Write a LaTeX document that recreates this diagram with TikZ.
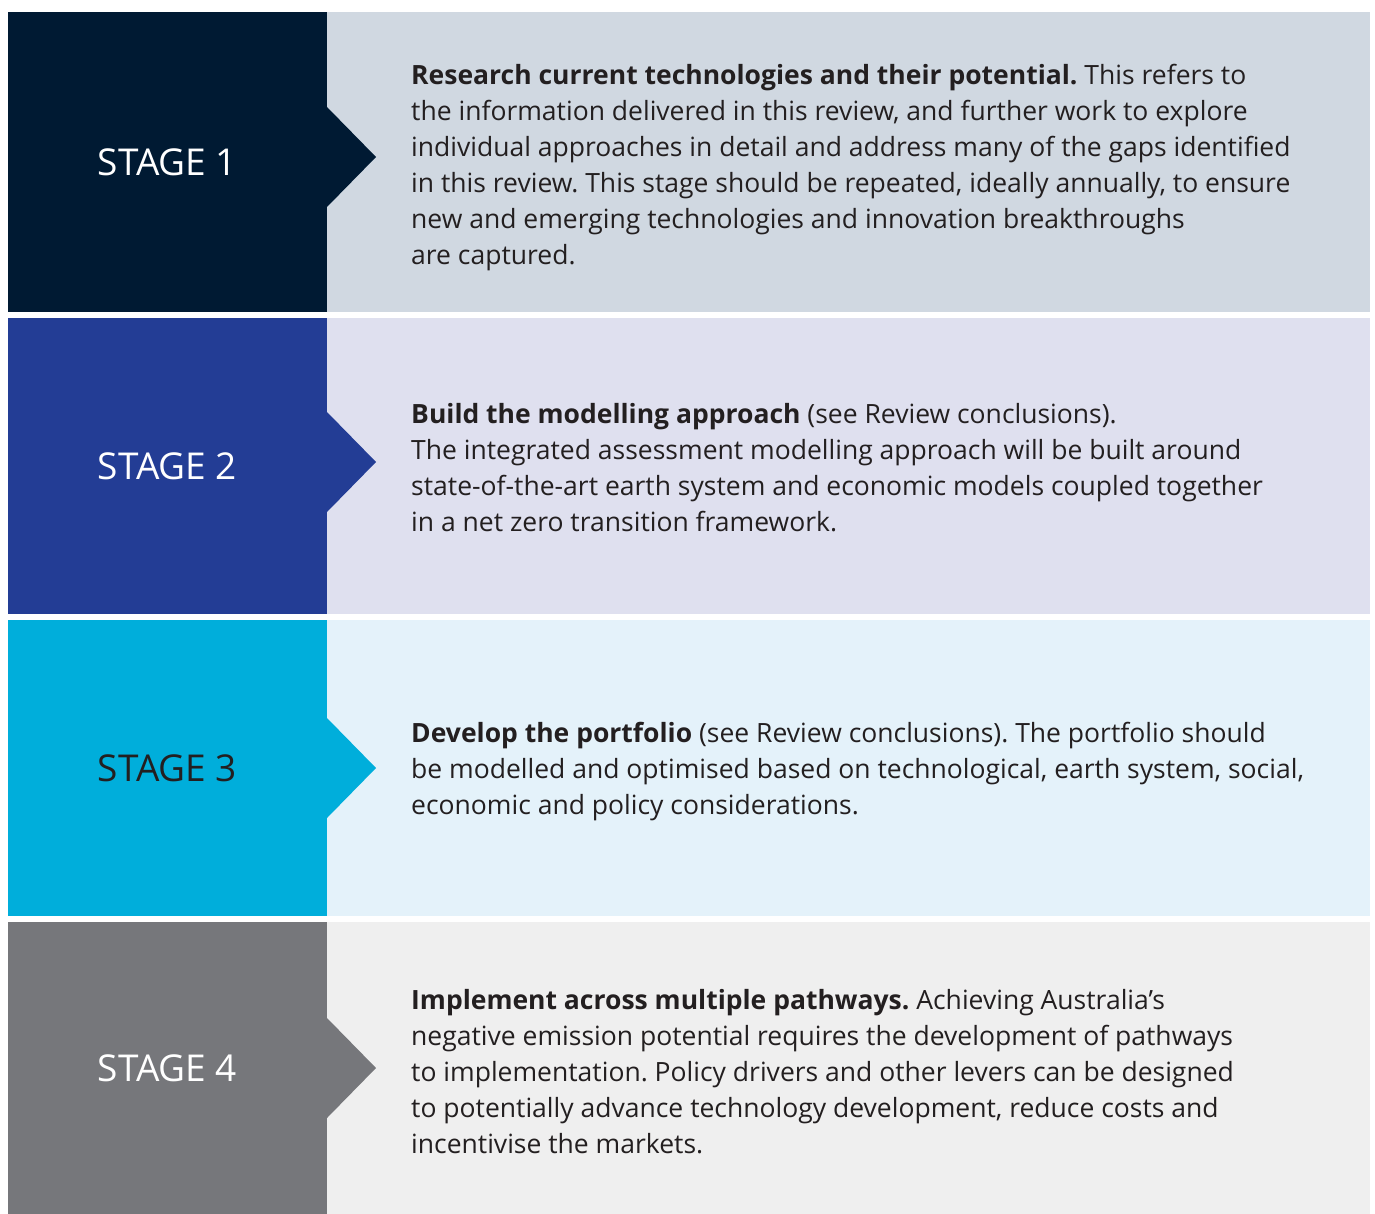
\documentclass[tikz,border=0pt]{standalone}
\usepackage{fontspec}
\setmainfont{Open Sans}
\usetikzlibrary{positioning}

\definecolor{stageone}{HTML}{001A33}
\definecolor{stagetwo}{HTML}{233D95}
\definecolor{stagethree}{HTML}{00AEDB}
\definecolor{stagefour}{HTML}{76777B}
\definecolor{panelone}{HTML}{D0D8E1}
\definecolor{paneltwo}{HTML}{DFE0EF}
\definecolor{panelthree}{HTML}{E4F2FA}
\definecolor{panelfour}{HTML}{EFEFEF}
\definecolor{bodytext}{HTML}{231F20}

\begin{document}
\frenchspacing
\begin{tikzpicture}[x = 1pt, y = -1pt,
    stage/.style = {shape = rectangle, minimum width = 319pt, inner sep = 0pt, outer sep = 0pt, text = white, font = \fontsize{37}{40}\selectfont},
    panel/.style = {shape = rectangle, minimum width = 1043pt, inner sep = 0pt, outer sep = 0pt},
    body/.style = {align = left, inner sep = 0pt, text = bodytext, font = \fontsize{26.5}{36}\selectfont},
    ]
    \useasboundingbox (0,0) rectangle (1375,1214);

    \node[stage, fill = stageone, minimum height = 300pt, anchor = north west] (s1) at (8,12) {\raisebox{-3pt}{STAGE 1}};
    \node[stage, fill = stagetwo, minimum height = 296pt, anchor = north west] (s2) at (8,318) {\raisebox{-2pt}{STAGE 2}};
    \node[stage, fill = stagethree, minimum height = 296pt, anchor = north west, text = bodytext] (s3) at (8,620) {\raisebox{-2pt}{STAGE 3}};
    \node[stage, fill = stagefour, minimum height = 292pt, anchor = north west] (s4) at (8,922) {\raisebox{-3pt}{STAGE 4}};

    \node[panel, fill = panelone, minimum height = 300pt, right = 0pt of s1] (p1) {};
    \node[panel, fill = paneltwo, minimum height = 296pt, right = 0pt of s2] (p2) {};
    \node[panel, fill = panelthree, minimum height = 296pt, right = 0pt of s3] (p3) {};
    \node[panel, fill = panelfour, minimum height = 292pt, right = 0pt of s4] (p4) {};

    % pointers into the panels
    \fill[stageone] (s1.east) ++(0,-55) -- ++(49,50) -- ++(-49,50) -- cycle;
    \fill[stagetwo] (s2.east) ++(0,-54) -- ++(49,50) -- ++(-49,50) -- cycle;
    \fill[stagethree] (s3.east) ++(0,-50) -- ++(49,50) -- ++(-49,50) -- cycle;
    \fill[stagefour] (s4.east) ++(0,-50) -- ++(49,50) -- ++(-49,50) -- cycle;

    \node[body, right = 84pt of p1.west, yshift = -6pt] (t1) {\textbf{Research current technologies and their potential.} This refers to\\
        the information delivered in this review, and further work to explore\\
        individual approaches in detail and address many of the gaps identified\\
        in this review. This stage should be repeated, ideally annually, to ensure\\
        new and emerging technologies and innovation breakthroughs\\
        are captured.};
    \node[body, right = 84pt of p2.west, yshift = -2pt] (t2) {\textbf{Build the modelling approach} (see Review conclusions).\\
        The integrated assessment modelling approach will be built around\\
        state-of-the-art earth system and economic models coupled together\\
        in a net zero transition framework.};
    \node[body, right = 84pt of p3.west, yshift = -4pt] (t3) {\textbf{Develop the portfolio} (see Review conclusions). The portfolio should\\
        be modelled and optimised based on technological, earth system, social,\\
        economic and policy considerations.};
    \node[body, right = 84pt of p4.west, yshift = -4pt] (t4) {\textbf{Implement across multiple pathways.} Achieving Australia’s\\
        negative emission potential requires the development of pathways\\
        to implementation. Policy drivers and other levers can be designed\\
        to potentially advance technology development, reduce costs and\\
        incentivise the markets.};
\end{tikzpicture}
\end{document}
